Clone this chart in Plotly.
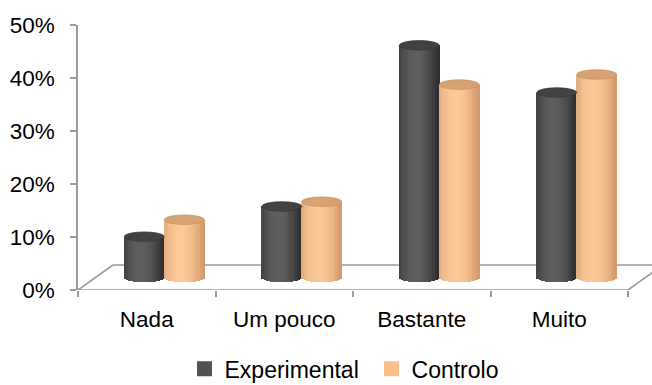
import numpy as np
import plotly.graph_objects as go

# Answer categories and the share of each group (percent)
categories = ["Nada", "Um pouco", "Bastante", "Muito"]
experimental = [7.7, 13.4, 43.8, 34.9]
controlo = [10.9, 14.3, 36.4, 38.3]
series_names = ["Experimental", "Controlo"]
y_ticks = [0, 10, 20, 30, 40, 50]

# ---- geometry of the pseudo-3D scene (pixels -> axis units) ----
W_PX, H_PX = 652, 385
L, R, T, B = 78, 0, 25, 95
plot_w = W_PX - L - R
plot_h = H_PX - T - B
px_x = 137.5                      # pixels per category
px_y = plot_h / 50.0              # pixels per percent
x_range = [-0.5, -0.5 + plot_w / px_x]

depth_dx = 35 / px_x              # floor depth, horizontal
depth_dy = 25 / px_y              # floor depth, vertical
mid_dx = depth_dx / 2             # cylinders stand mid-depth
mid_dy = depth_dy / 2
cyl_w = 40 / px_x                 # cylinder diameter
ell_h = 9.5 / px_y                # ellipse height of cap/bottom
centers = [mid_dx - cyl_w / 2, mid_dx + cyl_w / 2]

# body shading ramps (edge colour, highlight colour) and cap colours
ramps = [((48, 48, 48), (94, 94, 94)), ((212, 156, 110), (252, 202, 152))]
caps = ["#424242", "#d9a272"]
cap_lines = ["#383838", "#c79466"]
legend_cols = ["#515151", "#fbbf8b"]

N = 18
fig = go.Figure()


def shade(u, ramp):
    t = np.cos((u - 0.42) * np.pi * 0.95)
    t = max(0.0, t) ** 0.9
    lo, hi = ramp
    c = [int(round(lo[j] + (hi[j] - lo[j]) * t)) for j in range(3)]
    return "rgb(%d,%d,%d)" % tuple(c)


for s, vals in enumerate([experimental, controlo]):
    for k in range(N):
        u = (k + 0.5) / N
        a = 2 * u - 1
        base_k = mid_dy - (ell_h / 2) * np.sqrt(max(0.0, 1 - a * a))
        off = centers[s] - cyl_w / 2 + k * cyl_w / N
        fig.add_trace(go.Bar(
            x=categories,
            y=[v + mid_dy - base_k for v in vals],
            base=base_k,
            offset=off - 0.002,
            width=cyl_w / N + 0.006,
            marker=dict(color=shade(u, ramps[s]), line=dict(width=0)),
            showlegend=False,
            hoverinfo="skip",
        ))

# legend entries
for s in range(2):
    fig.add_trace(go.Scatter(
        x=[None], y=[None], mode="markers", name=series_names[s],
        marker=dict(symbol="square", size=15, color=legend_cols[s]),
    ))

shapes = []
grey = "#9a9a9a"
# floor outline
x_left, x_right = -0.5, len(categories) - 0.5
shapes += [
    dict(type="line", xref="x", yref="y", x0=x_left, y0=0, x1=x_right, y1=0,
         line=dict(color=grey, width=1.6), layer="below"),
    dict(type="line", xref="x", yref="y", x0=x_left, y0=0,
         x1=x_left + depth_dx, y1=depth_dy, line=dict(color=grey, width=1.6), layer="below"),
    dict(type="line", xref="x", yref="y", x0=x_left + depth_dx, y0=depth_dy,
         x1=x_right + depth_dx, y1=depth_dy, line=dict(color=grey, width=1.6), layer="below"),
    dict(type="line", xref="x", yref="y", x0=x_right, y0=0,
         x1=x_right + depth_dx, y1=depth_dy, line=dict(color=grey, width=1.6), layer="below"),
]
# top caps of the cylinders
for s, vals in enumerate([experimental, controlo]):
    for i, v in enumerate(vals):
        cx = i + centers[s]
        top = mid_dy + v
        shapes.append(dict(
            type="circle", xref="x", yref="y",
            x0=cx - cyl_w / 2, x1=cx + cyl_w / 2,
            y0=top - ell_h / 2, y1=top + ell_h / 2,
            fillcolor=caps[s], line=dict(color=cap_lines[s], width=0.8),
            layer="above",
        ))

font = "Liberation Sans, Arial, sans-serif"
fig.update_layout(
    width=W_PX, height=H_PX,
    margin=dict(l=L, r=R, t=T, b=B, pad=0),
    paper_bgcolor="white", plot_bgcolor="white",
    barmode="overlay", bargap=0,
    shapes=shapes,
    font=dict(family=font, size=22, color="#000000"),
    xaxis=dict(
        type="category", range=x_range, categoryorder="array",
        categoryarray=categories,
        showline=False, showgrid=False, zeroline=False,
        tickson="boundaries", ticks="outside", ticklen=6, tickwidth=1.6,
        tickcolor=grey, tickfont=dict(size=22.5), ticklabelstandoff=13,
        fixedrange=True,
    ),
    yaxis=dict(
        range=[0, 50], tickvals=y_ticks, ticktext=["%d%%" % t for t in y_ticks],
        showline=True, linecolor=grey, linewidth=1.6, mirror=False,
        showgrid=False, zeroline=False,
        ticks="outside", ticklen=6, tickwidth=1.6, tickcolor=grey,
        tickfont=dict(size=22.5), ticklabelstandoff=11, fixedrange=True,
    ),
    legend=dict(
        orientation="h", xref="container", yref="container",
        x=0.283, xanchor="left", y=0.042, yanchor="middle",
        font=dict(size=23), itemwidth=30, entrywidth=142,
        bgcolor="rgba(0,0,0,0)",
    ),
    showlegend=True,
)

fig.write_html("out.html")
